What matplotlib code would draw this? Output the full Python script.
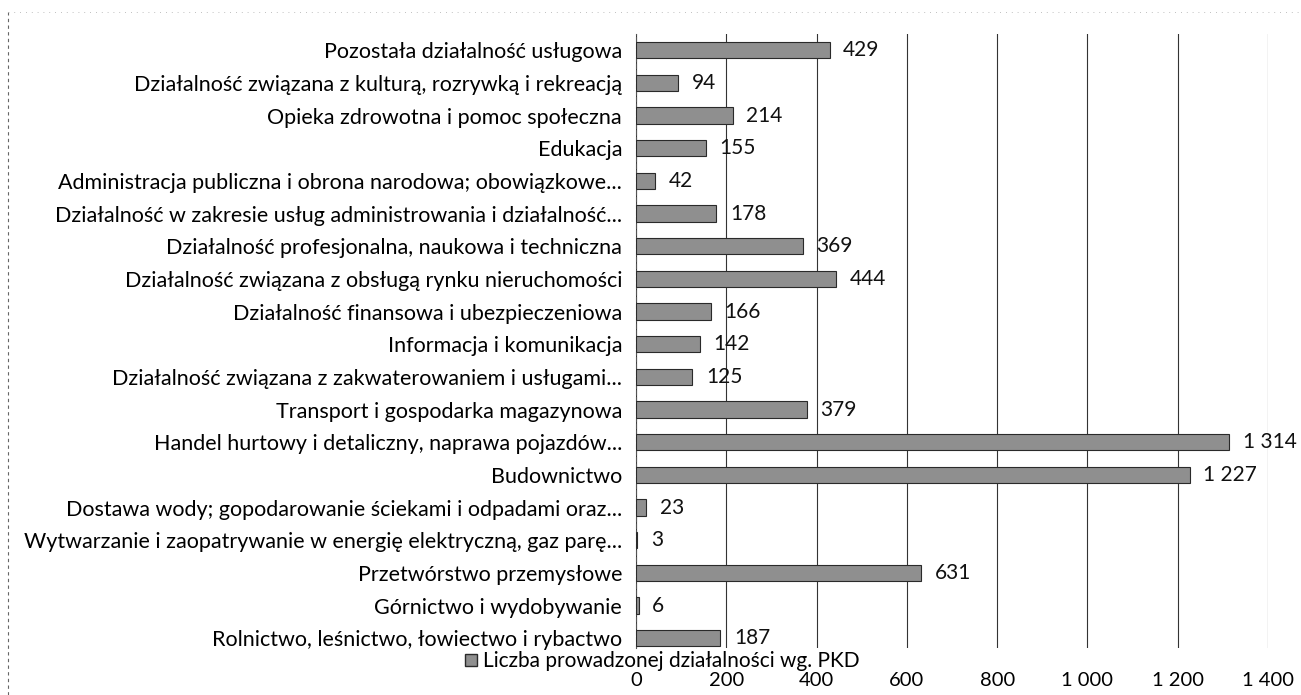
import numpy as np
import matplotlib
matplotlib.use("Agg")
from matplotlib import pyplot as plt
from matplotlib.lines import Line2D

# data (top to bottom, as in the chart)
categories = [
    "Pozostała działalność usługowa",
    "Działalność związana z kulturą, rozrywką i rekreacją",
    "Opieka zdrowotna i pomoc społeczna",
    "Edukacja",
    "Administracja publiczna i obrona narodowa; obowiązkowe...",
    "Działalność w zakresie usług administrowania i działalność...",
    "Działalność profesjonalna, naukowa i techniczna",
    "Działalność związana z obsługą rynku nieruchomości",
    "Działalność finansowa i ubezpieczeniowa",
    "Informacja i komunikacja",
    "Działalność związana z zakwaterowaniem i usługami...",
    "Transport i gospodarka magazynowa",
    "Handel hurtowy i detaliczny, naprawa pojazdów...",
    "Budownictwo",
    "Dostawa wody; gopodarowanie ściekami i odpadami oraz...",
    "Wytwarzanie i zaopatrywanie w energię elektryczną, gaz parę...",
    "Przetwórstwo przemysłowe",
    "Górnictwo i wydobywanie",
    "Rolnictwo, leśnictwo, łowiectwo i rybactwo",
]
values = [429, 94, 214, 155, 42, 178, 369, 444, 166, 142, 125, 379,
          1314, 1227, 23, 3, 631, 6, 187]
series_name = "Liczba prowadzonej działalności wg. PKD"
x_ticks = [0, 200, 400, 600, 800, 1000, 1200, 1400]

def fmt(v):
    return "{:,}".format(v).replace(",", " ")

plt.rcParams['font.family'] = ['Lato', 'DejaVu Sans']
FS = 15

fig = plt.figure(figsize=(13.01, 6.95), dpi=100)
# axes: x from 636 to 1268 px, y from 34 to 648 px
ax = fig.add_axes([636 / 1301, 1 - 648 / 695, 632 / 1301, 614 / 695])

y = np.arange(len(categories))
ax.barh(y, values, height=0.5, color='#8f8f8f', edgecolor='#2a2a2a',
        linewidth=0.8, zorder=3)
for yi, v in zip(y, values):
    ax.text(v + 30, yi, fmt(v), va='center', ha='left', fontsize=FS,
            color='#111111', zorder=4)

# bottom limit a bit tight so the last row sits close to the legend
ax.set_ylim(len(categories) - 0.7, -0.5)
ax.set_xlim(0, 1400)
ax.set_yticks(y)
ax.set_yticklabels(categories, fontsize=15.5)
ax.set_xticks(x_ticks)
ax.set_xticklabels([fmt(t) for t in x_ticks], fontsize=14.5)
ax.tick_params(axis='y', length=0, pad=10)
ax.tick_params(axis='x', length=0, pad=17)

ax.grid(axis='x', color='#333333', linewidth=0.8, zorder=0)
for s in ['top', 'right', 'bottom']:
    ax.spines[s].set_visible(False)
ax.spines['left'].set_color('#555555')
ax.spines['left'].set_linewidth(0.8)
ax.spines['left'].set_linestyle((0, (4, 2)))

handle = Line2D([], [], marker='s', linestyle='none', markersize=9,
                markerfacecolor='#8f8f8f', markeredgecolor='#2a2a2a')
fig.legend([handle], [series_name], loc='center',
           bbox_to_anchor=(661 / 1301, 1 - 661 / 695), frameon=False,
           fontsize=FS, handletextpad=0.2, borderpad=0, handlelength=0.8)

# scan border remnants
fig.add_artist(Line2D([8 / 1301, 8 / 1301], [0, 1 - 12 / 695],
                      color='#666666', lw=0.8, linestyle=(0, (3, 3))))
fig.add_artist(Line2D([8 / 1301, 1], [1 - 12 / 695, 1 - 12 / 695],
                      color='#aaaaaa', lw=0.6, linestyle=(0, (1, 6))))

fig.savefig("out.png", dpi=100)
